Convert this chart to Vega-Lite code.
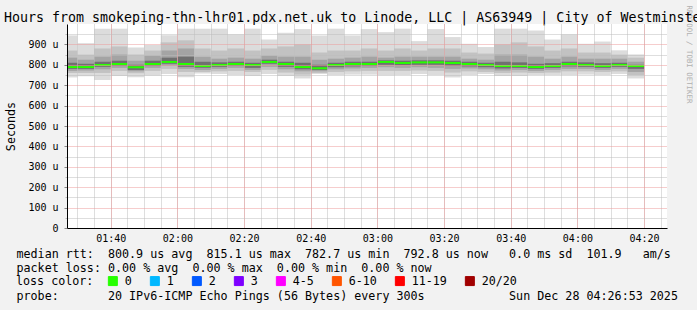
{
  "$schema": "https://vega.github.io/schema/vega-lite/v6.json",
  "width": 600,
  "height": 204,
  "autosize": {"type": "none"},
  "padding": {"left": 67, "top": 24, "right": 30, "bottom": 82},
  "background": "#f2f2f2",
  "view": {"fill": "white", "stroke": null},
  "config": {"font": "DejaVu Sans Mono"},
  "title": {
    "text": "Hours from smokeping-thn-lhr01.pdx.net.uk to Linode, LLC | AS63949 | City of Westminster",
    "anchor": "start",
    "frame": "group",
    "dx": -63,
    "dy": 33,
    "offset": 3,
    "baseline": "alphabetic",
    "font": "DejaVu Sans Mono",
    "fontSize": 13.3,
    "fontWeight": "normal",
    "color": "#000000"
  },
  "data": {
    "values": [
      {"s": "2025-12-28T01:25:00Z", "e": "2025-12-28T01:30:00Z", "hi": 944, "q90": 870, "q75": 835, "q60": 810, "med": 789, "q40": 780, "q25": 770, "q10": 760, "lo": 738, "loss": "0"},
      {"s": "2025-12-28T01:30:00Z", "e": "2025-12-28T01:35:00Z", "hi": 906, "q90": 850, "q75": 825, "q60": 805, "med": 789, "q40": 780, "q25": 772, "q10": 760, "lo": 744, "loss": "0"},
      {"s": "2025-12-28T01:35:00Z", "e": "2025-12-28T01:40:00Z", "hi": 977, "q90": 880, "q75": 840, "q60": 815, "med": 799, "q40": 790, "q25": 778, "q10": 760, "lo": 725, "loss": "0"},
      {"s": "2025-12-28T01:40:00Z", "e": "2025-12-28T01:45:00Z", "hi": 977, "q90": 890, "q75": 850, "q60": 820, "med": 804, "q40": 795, "q25": 785, "q10": 770, "lo": 745, "loss": "0"},
      {"s": "2025-12-28T01:45:00Z", "e": "2025-12-28T01:50:00Z", "hi": 885, "q90": 850, "q75": 820, "q60": 800, "med": 788, "q40": 775, "q25": 768, "q10": 758, "lo": 739, "loss": "0"},
      {"s": "2025-12-28T01:50:00Z", "e": "2025-12-28T01:55:00Z", "hi": 897, "q90": 870, "q75": 845, "q60": 820, "med": 804, "q40": 795, "q25": 785, "q10": 770, "lo": 747, "loss": "0"},
      {"s": "2025-12-28T01:55:00Z", "e": "2025-12-28T02:00:00Z", "hi": 945, "q90": 910, "q75": 870, "q60": 835, "med": 814, "q40": 805, "q25": 795, "q10": 780, "lo": 755, "loss": "0"},
      {"s": "2025-12-28T02:00:00Z", "e": "2025-12-28T02:05:00Z", "hi": 977, "q90": 920, "q75": 880, "q60": 840, "med": 804, "q40": 790, "q25": 780, "q10": 765, "lo": 739, "loss": "0"},
      {"s": "2025-12-28T02:05:00Z", "e": "2025-12-28T02:10:00Z", "hi": 977, "q90": 880, "q75": 840, "q60": 815, "med": 794, "q40": 785, "q25": 775, "q10": 765, "lo": 757, "loss": "0"},
      {"s": "2025-12-28T02:10:00Z", "e": "2025-12-28T02:15:00Z", "hi": 977, "q90": 870, "q75": 830, "q60": 812, "med": 799, "q40": 790, "q25": 780, "q10": 768, "lo": 755, "loss": "0"},
      {"s": "2025-12-28T02:15:00Z", "e": "2025-12-28T02:20:00Z", "hi": 949, "q90": 880, "q75": 835, "q60": 815, "med": 804, "q40": 795, "q25": 785, "q10": 770, "lo": 750, "loss": "0"},
      {"s": "2025-12-28T02:20:00Z", "e": "2025-12-28T02:25:00Z", "hi": 977, "q90": 870, "q75": 830, "q60": 810, "med": 799, "q40": 785, "q25": 775, "q10": 765, "lo": 745, "loss": "0"},
      {"s": "2025-12-28T02:25:00Z", "e": "2025-12-28T02:30:00Z", "hi": 924, "q90": 880, "q75": 845, "q60": 825, "med": 814, "q40": 805, "q25": 790, "q10": 775, "lo": 755, "loss": "0"},
      {"s": "2025-12-28T02:30:00Z", "e": "2025-12-28T02:35:00Z", "hi": 957, "q90": 890, "q75": 840, "q60": 815, "med": 804, "q40": 790, "q25": 778, "q10": 762, "lo": 745, "loss": "0"},
      {"s": "2025-12-28T02:35:00Z", "e": "2025-12-28T02:40:00Z", "hi": 975, "q90": 900, "q75": 840, "q60": 810, "med": 789, "q40": 778, "q25": 768, "q10": 752, "lo": 733, "loss": "0"},
      {"s": "2025-12-28T02:40:00Z", "e": "2025-12-28T02:45:00Z", "hi": 944, "q90": 860, "q75": 825, "q60": 800, "med": 783, "q40": 775, "q25": 768, "q10": 760, "lo": 755, "loss": "0"},
      {"s": "2025-12-28T02:45:00Z", "e": "2025-12-28T02:50:00Z", "hi": 977, "q90": 870, "q75": 830, "q60": 810, "med": 799, "q40": 788, "q25": 778, "q10": 765, "lo": 750, "loss": "0"},
      {"s": "2025-12-28T02:50:00Z", "e": "2025-12-28T02:55:00Z", "hi": 944, "q90": 870, "q75": 835, "q60": 815, "med": 804, "q40": 792, "q25": 782, "q10": 768, "lo": 752, "loss": "0"},
      {"s": "2025-12-28T02:55:00Z", "e": "2025-12-28T03:00:00Z", "hi": 975, "q90": 880, "q75": 840, "q60": 815, "med": 804, "q40": 795, "q25": 785, "q10": 770, "lo": 752, "loss": "0"},
      {"s": "2025-12-28T03:00:00Z", "e": "2025-12-28T03:05:00Z", "hi": 960, "q90": 870, "q75": 835, "q60": 822, "med": 814, "q40": 800, "q25": 788, "q10": 770, "lo": 749, "loss": "0"},
      {"s": "2025-12-28T03:05:00Z", "e": "2025-12-28T03:10:00Z", "hi": 977, "q90": 880, "q75": 840, "q60": 820, "med": 809, "q40": 798, "q25": 785, "q10": 770, "lo": 750, "loss": "0"},
      {"s": "2025-12-28T03:10:00Z", "e": "2025-12-28T03:15:00Z", "hi": 916, "q90": 870, "q75": 840, "q60": 822, "med": 812, "q40": 800, "q25": 788, "q10": 772, "lo": 755, "loss": "0"},
      {"s": "2025-12-28T03:15:00Z", "e": "2025-12-28T03:20:00Z", "hi": 975, "q90": 880, "q75": 840, "q60": 822, "med": 812, "q40": 800, "q25": 785, "q10": 770, "lo": 750, "loss": "0"},
      {"s": "2025-12-28T03:20:00Z", "e": "2025-12-28T03:25:00Z", "hi": 936, "q90": 880, "q75": 840, "q60": 820, "med": 809, "q40": 795, "q25": 780, "q10": 762, "lo": 738, "loss": "0"},
      {"s": "2025-12-28T03:25:00Z", "e": "2025-12-28T03:30:00Z", "hi": 903, "q90": 860, "q75": 830, "q60": 815, "med": 804, "q40": 792, "q25": 782, "q10": 768, "lo": 750, "loss": "0"},
      {"s": "2025-12-28T03:30:00Z", "e": "2025-12-28T03:35:00Z", "hi": 887, "q90": 855, "q75": 825, "q60": 810, "med": 799, "q40": 788, "q25": 778, "q10": 765, "lo": 755, "loss": "0"},
      {"s": "2025-12-28T03:35:00Z", "e": "2025-12-28T03:40:00Z", "hi": 977, "q90": 900, "q75": 850, "q60": 815, "med": 794, "q40": 782, "q25": 772, "q10": 760, "lo": 745, "loss": "0"},
      {"s": "2025-12-28T03:40:00Z", "e": "2025-12-28T03:45:00Z", "hi": 977, "q90": 910, "q75": 850, "q60": 812, "med": 794, "q40": 785, "q25": 775, "q10": 762, "lo": 745, "loss": "0"},
      {"s": "2025-12-28T03:45:00Z", "e": "2025-12-28T03:50:00Z", "hi": 968, "q90": 890, "q75": 840, "q60": 805, "med": 789, "q40": 780, "q25": 770, "q10": 760, "lo": 750, "loss": "0"},
      {"s": "2025-12-28T03:50:00Z", "e": "2025-12-28T03:55:00Z", "hi": 924, "q90": 870, "q75": 830, "q60": 808, "med": 794, "q40": 785, "q25": 775, "q10": 762, "lo": 750, "loss": "0"},
      {"s": "2025-12-28T03:55:00Z", "e": "2025-12-28T04:00:00Z", "hi": 949, "q90": 880, "q75": 840, "q60": 815, "med": 804, "q40": 792, "q25": 780, "q10": 768, "lo": 750, "loss": "0"},
      {"s": "2025-12-28T04:00:00Z", "e": "2025-12-28T04:05:00Z", "hi": 903, "q90": 860, "q75": 830, "q60": 812, "med": 799, "q40": 790, "q25": 780, "q10": 768, "lo": 752, "loss": "0"},
      {"s": "2025-12-28T04:05:00Z", "e": "2025-12-28T04:10:00Z", "hi": 914, "q90": 860, "q75": 830, "q60": 808, "med": 794, "q40": 785, "q25": 775, "q10": 765, "lo": 750, "loss": "0"},
      {"s": "2025-12-28T04:10:00Z", "e": "2025-12-28T04:15:00Z", "hi": 871, "q90": 850, "q75": 830, "q60": 810, "med": 799, "q40": 790, "q25": 780, "q10": 768, "lo": 755, "loss": "0"},
      {"s": "2025-12-28T04:15:00Z", "e": "2025-12-28T04:20:00Z", "hi": 851, "q90": 835, "q75": 815, "q60": 800, "med": 794, "q40": 780, "q25": 765, "q10": 750, "lo": 733, "loss": "0"}
    ]
  },
  "layer": [
    {
      "mark": {"type": "rect", "color": "#dcdcdc", "clip": true},
      "encoding": {
        "x": {"field": "s", "type": "temporal",
          "scale": {"type": "utc", "domain": [1766885213000, 1766896013000]},
          "axis": {"orient": "bottom",
            "values": [1766885400000, 1766885700000, 1766886000000, 1766886300000, 1766886600000, 1766886900000, 1766887200000, 1766887500000, 1766887800000, 1766888100000, 1766888400000, 1766888700000, 1766889000000, 1766889300000, 1766889600000, 1766889900000, 1766890200000, 1766890500000, 1766890800000, 1766891100000, 1766891400000, 1766891700000, 1766892000000, 1766892300000, 1766892600000, 1766892900000, 1766893200000, 1766893500000, 1766893800000, 1766894100000, 1766894400000, 1766894700000, 1766895000000, 1766895300000, 1766895600000, 1766895900000],
            "grid": true, "gridColor": "#bcbcbc", "gridDash": [1, 1], "labels": false, "ticks": false, "domain": false,
            "title": "probe:\u00a0\u00a0\u00a0\u00a0\u00a0\u00a0\u00a020\u00a0IPv6-ICMP\u00a0Echo\u00a0Pings\u00a0(56\u00a0Bytes)\u00a0every\u00a0300s\u00a0\u00a0\u00a0\u00a0\u00a0\u00a0\u00a0\u00a0\u00a0\u00a0\u00a0\u00a0Sun\u00a0Dec\u00a028\u00a004:26:53\u00a02025",
            "titleFont": "DejaVu Sans Mono", "titleFontSize": 11.7, "titleFontWeight": "normal", "titleColor": "#000000",
            "titleAlign": "left", "titleBaseline": "top", "titleX": -51, "titleY": 62,
            "zindex": 1}},
        "x2": {"field": "e"},
        "y": {"field": "lo", "type": "quantitative",
          "scale": {"domain": [0, 1000], "nice": false, "zero": true},
          "axis": {"orient": "left", "values": [50, 150, 250, 350, 450, 550, 650, 750, 850, 950], "grid": true, "gridColor": "#bcbcbc", "gridDash": [1, 1], "labels": false, "ticks": true, "tickSize": 2, "tickColor": "#bcbcbc", "domain": false, "title": null, "zindex": 1}},
        "y2": {"field": "hi"}
      }
    },
    {
      "mark": {"type": "rect", "color": "#c2c2c2", "clip": true},
      "encoding": {
        "x": {"field": "s", "type": "temporal",
          "scale": {"type": "utc", "domain": [1766885213000, 1766896013000]},
          "axis": {"orient": "bottom",
            "values": [1766886000000, 1766887200000, 1766888400000, 1766889600000, 1766890800000, 1766892000000, 1766893200000, 1766894400000, 1766895600000],
            "labelExpr": "utcFormat(datum.value, '%H:%M')",
            "grid": true, "gridColor": "#ec9a9a", "gridDash": [1, 1],
            "labelFont": "DejaVu Sans Mono", "labelFontSize": 10, "labelColor": "#000000", "labelPadding": 5, "labelFlush": false,
            "ticks": false, "domain": true, "domainColor": "#000000", "domainWidth": 1,
            "title": [
              "median\u00a0rtt:\u00a0\u00a0800.9\u00a0us\u00a0avg\u00a0\u00a0815.1\u00a0us\u00a0max\u00a0\u00a0782.7\u00a0us\u00a0min\u00a0\u00a0792.8\u00a0us\u00a0now\u00a0\u00a0\u00a00.0\u00a0ms\u00a0sd\u00a0\u00a0101.9\u00a0\u00a0\u00a0am/s",
              "packet\u00a0loss:\u00a00.00\u00a0%\u00a0avg\u00a0\u00a00.00\u00a0%\u00a0max\u00a0\u00a00.00\u00a0%\u00a0min\u00a0\u00a00.00\u00a0%\u00a0now"
            ],
            "titleFont": "DejaVu Sans Mono", "titleFontSize": 11.7, "titleFontWeight": "normal", "titleColor": "#000000",
            "titleAlign": "left", "titleBaseline": "top", "titleLineHeight": 14, "titleX": -51, "titleY": 20,
            "zindex": 1
          }},
        "x2": {"field": "e"},
        "y": {"field": "q10", "type": "quantitative",
          "scale": {"domain": [0, 1000], "nice": false, "zero": true},
          "axis": {"orient": "left",
            "values": [0, 100, 200, 300, 400, 500, 600, 700, 800, 900],
            "labelExpr": "datum.value == 0 ? '0\u00a0\u00a0' : datum.value + '\u00a0u'",
            "grid": true, "gridColor": "#ec9a9a", "gridDash": [1, 1],
            "labelFont": "DejaVu Sans Mono", "labelFontSize": 10, "labelColor": "#000000", "labelPadding": 6,
            "ticks": true, "tickSize": 3, "tickColor": "#888888",
            "domain": true, "domainColor": "#000000", "domainWidth": 1,
            "title": "Seconds", "titleFont": "DejaVu Sans Mono", "titleFontSize": 11.7, "titleFontWeight": "normal", "titleColor": "#000000", "titlePadding": 11,
            "zindex": 1
          }},
        "y2": {"field": "q90"}
      }
    },
    {
      "mark": {"type": "rect", "color": "#a4a4a4", "clip": true},
      "encoding": {
        "x": {"field": "s", "type": "temporal", "axis": null},
        "x2": {"field": "e"},
        "y": {"field": "q25", "type": "quantitative",
          "axis": {"orient": "right", "labels": false, "ticks": false, "domain": false, "grid": false,
            "title": "RRDTOOL / TOBI OETIKER", "titleFont": "DejaVu Sans Mono", "titleFontSize": 7.4, "titleFontWeight": "normal", "titleColor": "#b0b0b0",
            "titleAngle": 90, "titleAlign": "left", "titleBaseline": "middle", "titleX": 21, "titleY": -19}},
        "y2": {"field": "q75"}
      }
    },
    {
      "mark": {"type": "rect", "color": "#707070", "clip": true},
      "encoding": {
        "x": {"field": "s", "type": "temporal", "axis": null},
        "x2": {"field": "e"},
        "y": {"field": "q40", "type": "quantitative", "axis": null},
        "y2": {"field": "q60"}
      }
    },
    {
      "mark": {"type": "rule", "strokeWidth": 2, "clip": true},
      "encoding": {
        "x": {"field": "s", "type": "temporal", "axis": null},
        "x2": {"field": "e"},
        "y": {"field": "med", "type": "quantitative", "axis": null},
        "color": {
          "field": "loss", "type": "nominal",
          "scale": {"domain": ["0", "1", "2", "3", "4-5", "6-10", "11-19", "20/20"],
                    "range": ["#26ff00", "#00b8ff", "#0059ff", "#7e00ff", "#ff00ff", "#ff5500", "#ff0000", "#a10000"]},
          "legend": {
            "orient": "none", "legendX": -51, "legendY": 251, "direction": "horizontal", "columns": 8, "padding": 0,
            "values": ["0", "1", "2", "3", "4-5", "6-10", "11-19", "20/20"],
            "title": "loss color:", "titleOrient": "left", "titleFont": "DejaVu Sans Mono", "titleFontSize": 11.7, "titleFontWeight": "normal", "titleColor": "#000000", "titlePadding": 13,
            "labelFont": "DejaVu Sans Mono", "labelFontSize": 11.7, "labelColor": "#000000", "labelOffset": 6,
            "columnPadding": 16, "symbolType": "square", "symbolSize": 81, "symbolStrokeWidth": 1,
            "encode": {"symbols": {"update": {"fill": {"scale": "color", "field": "value"}, "fillOpacity": {"value": 1}, "stroke": {"value": "#000000"}, "strokeWidth": {"value": 1}}}}
          }
        }
      }
    }
  ],
  "resolve": {"axis": {"x": "independent", "y": "independent"}}
}
